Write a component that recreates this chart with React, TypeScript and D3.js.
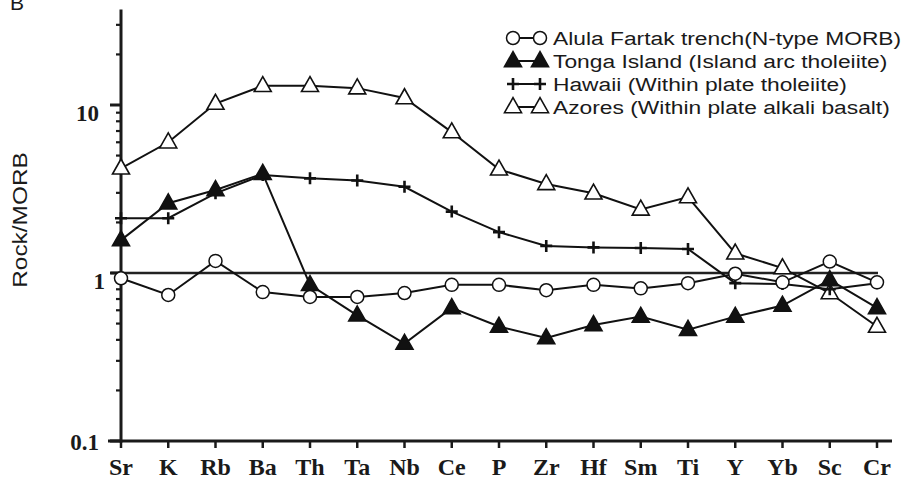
import React, { useEffect, useRef } from "react";
import * as d3 from "d3";

const elements = ["Sr", "K", "Rb", "Ba", "Th", "Ta", "Nb", "Ce", "P", "Zr", "Hf", "Sm", "Ti", "Y", "Yb", "Sc", "Cr"];

const alula = [0.93, 0.74, 1.18, 0.77, 0.72, 0.72, 0.76, 0.85, 0.85, 0.79, 0.85, 0.81, 0.87, 0.99, 0.88, 1.17, 0.88];
const tonga = [1.57, 2.6, 3.12, 3.9, 0.85, 0.56, 0.38, 0.62, 0.48, 0.41, 0.49, 0.55, 0.46, 0.55, 0.64, 0.91, 0.62];
const hawaii = [2.12, 2.12, 2.98, 3.83, 3.66, 3.55, 3.26, 2.32, 1.75, 1.45, 1.42, 1.41, 1.39, 0.87, 0.86, 0.8, 0.87];
const azores = [4.2, 6.0, 10.2, 13.0, 13.0, 12.6, 11.0, 6.9, 4.14, 3.39, 2.98, 2.39, 2.83, 1.31, 1.07, 0.76, 0.48];

const legendLabels = [
  "Alula Fartak trench(N-type MORB)",
  "Tonga Island (Island arc tholeiite)",
  "Hawaii (Within plate tholeiite)",
  "Azores (Within plate alkali basalt)",
];

const majorTicks = [0.1, 1, 10];
const minorTicks = [0.2, 0.3, 0.4, 0.5, 0.6, 0.7, 0.8, 0.9, 2, 3, 4, 5, 6, 7, 8, 9, 20, 30];
const yMax = 37;

type Kind = "circle" | "filled" | "plus" | "open";

const App = () => {
  const ref = useRef<SVGSVGElement>(null);

  useEffect(() => {
    const width = 905;
    const height = 479;
    const svg = d3.select(ref.current);
    svg.selectAll("*").remove();
    svg.attr("width", width).attr("height", height);

    const x = d3.scalePoint<string>().domain(elements).range([121, 877]);
    const y = d3.scaleLog().domain([0.1, 10]).range([441, 105]);
    const x0 = 121;
    const sans = "'Liberation Sans', Arial, sans-serif";
    const serif = "'Liberation Serif', 'Times New Roman', serif";

    const drawMarker = (g: any, kind: Kind, cx: number, cy: number) => {
      if (kind === "circle") {
        g.append("circle")
          .attr("cx", cx).attr("cy", cy).attr("r", 6.5)
          .attr("fill", "#fff").attr("stroke", "#111").attr("stroke-width", 1.5);
      } else if (kind === "filled" || kind === "open") {
        const s = 17, h = 15;
        const pts = [
          [cx, cy - h * 0.62],
          [cx - s / 2, cy + h * 0.38],
          [cx + s / 2, cy + h * 0.38],
        ];
        g.append("polygon")
          .attr("points", pts.map((p) => p.join(",")).join(" "))
          .attr("fill", kind === "filled" ? "#111" : "#fff")
          .attr("stroke", "#111").attr("stroke-width", 1.6);
      } else {
        g.append("path")
          .attr("d", `M${cx - 6},${cy}H${cx + 6}M${cx},${cy - 6}V${cy + 6}`)
          .attr("stroke", "#111").attr("stroke-width", 2.6).attr("fill", "none");
      }
    };

    // reference line at 1
    svg.append("line")
      .attr("x1", 111).attr("x2", 878)
      .attr("y1", y(1)).attr("y2", y(1))
      .attr("stroke", "#222").attr("stroke-width", 2.6);

    // axes
    svg.append("line")
      .attr("x1", x0).attr("x2", x0)
      .attr("y1", y(yMax)).attr("y2", y(0.1) + 1.5)
      .attr("stroke", "#1a1a1a").attr("stroke-width", 3);
    svg.append("line")
      .attr("x1", 108).attr("x2", 892)
      .attr("y1", y(0.1)).attr("y2", y(0.1))
      .attr("stroke", "#1a1a1a").attr("stroke-width", 3);

    minorTicks.forEach((t) => {
      svg.append("line")
        .attr("x1", x0 - 5).attr("x2", x0)
        .attr("y1", y(t)).attr("y2", y(t))
        .attr("stroke", "#1a1a1a").attr("stroke-width", 2.2);
    });
    majorTicks.forEach((t) => {
      svg.append("line")
        .attr("x1", x0 - 11).attr("x2", x0)
        .attr("y1", y(t)).attr("y2", y(t))
        .attr("stroke", "#1a1a1a").attr("stroke-width", 3);
      svg.append("text")
        .attr("x", t === 1 ? 105 : 99)
        .attr("y", y(t) + (t === 0.1 ? 9 : 16))
        .attr("text-anchor", "end")
        .attr("font-family", serif)
        .attr("font-weight", "bold")
        .attr("font-size", 23)
        .attr("fill", "#1a1a1a")
        .text(String(t));
    });

    elements.forEach((e) => {
      svg.append("line")
        .attr("x1", x(e)!).attr("x2", x(e)!)
        .attr("y1", y(0.1)).attr("y2", y(0.1) + 7)
        .attr("stroke", "#1a1a1a").attr("stroke-width", 2.5);
      svg.append("text")
        .attr("x", x(e)!)
        .attr("y", 475)
        .attr("text-anchor", "middle")
        .attr("font-family", serif)
        .attr("font-weight", "bold")
        .attr("font-size", 24)
        .attr("fill", "#1a1a1a")
        .text(e);
    });

    // y label (stretched along its length like the scan)
    svg.append("text")
      .attr("transform", `translate(27,220) rotate(-90) scale(1.22,1)`)
      .attr("text-anchor", "middle")
      .attr("font-family", sans)
      .attr("font-size", 20)
      .attr("fill", "#1a1a1a")
      .text("Rock/MORB");

    svg.append("text")
      .attr("x", 10).attr("y", 10)
      .attr("font-family", sans)
      .attr("font-size", 21)
      .attr("fill", "#1a1a1a")
      .text("B");

    const series: { values: number[]; kind: Kind }[] = [
      { values: azores, kind: "open" },
      { values: hawaii, kind: "plus" },
      { values: tonga, kind: "filled" },
      { values: alula, kind: "circle" },
    ];

    const line = d3.line<number>()
      .x((_, i) => x(elements[i])!)
      .y((d) => y(d));

    series.forEach((s) => {
      const g = svg.append("g");
      g.append("path")
        .attr("d", line(s.values))
        .attr("fill", "none")
        .attr("stroke", "#111")
        .attr("stroke-width", 2);
      s.values.forEach((v, i) => drawMarker(g, s.kind, x(elements[i])!, y(v)));
    });

    // legend
    const legendKinds: Kind[] = ["circle", "filled", "plus", "open"];
    legendKinds.forEach((k, i) => {
      const ly = 38 + i * 23;
      const g = svg.append("g");
      g.append("line")
        .attr("x1", 513).attr("x2", 540)
        .attr("y1", ly).attr("y2", ly)
        .attr("stroke", "#111").attr("stroke-width", 2);
      drawMarker(g, k, 513, ly);
      drawMarker(g, k, 540, ly);
      g.append("text")
        .attr("transform", `translate(553,${ly + 7}) scale(1.2,1)`)
        .attr("font-family", sans)
        .attr("font-size", 19)
        .attr("fill", "#1a1a1a")
        .text(legendLabels[i]);
    });
  }, []);

  return <svg ref={ref} style={{ position: "absolute", left: 0, top: 0 }}></svg>;
};

export default App;
